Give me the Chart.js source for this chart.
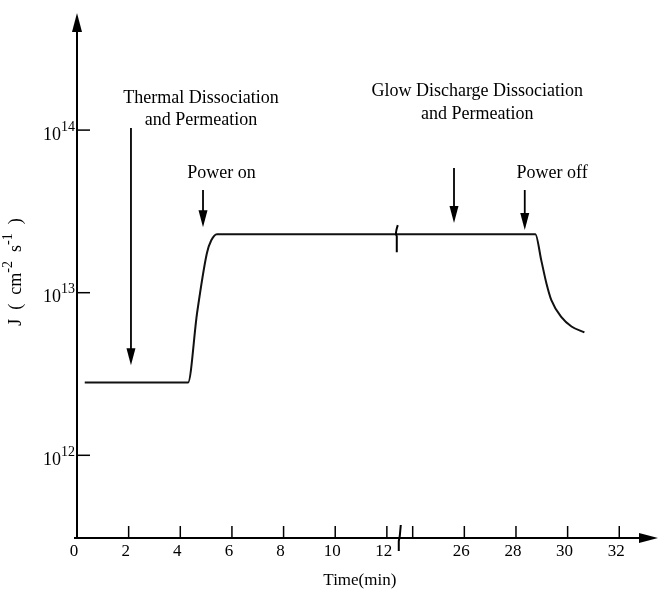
<!DOCTYPE html>
<html>
<head>
<meta charset="utf-8">
<script src="https://cdn.jsdelivr.net/npm/chart.js@4.4.1/dist/chart.umd.min.js"></script>
<style>
  body { margin: 0; background: #fff; }
  #wrap { width: 662px; height: 590px; }
</style>
</head>
<body>
<div id="wrap"><canvas id="fluxChart" width="662" height="590"></canvas></div>
<script>
// flux vs real time (min); the time axis is broken between 12.5 and 23.5
const timeMin = [0.3, 4.3, 4.65, 5.03, 5.2, 5.42, 12.4, 23.6, 28.75, 28.98, 29.18, 29.37, 29.76, 30.15, 30.65];
const flux = [2.8e12, 2.8e12, 7.5e12, 1.75e13, 2.1e13, 2.29e13, 2.29e13, 2.29e13, 2.29e13, 1.58e13, 1.14e13, 9.0e12, 7.07e12, 6.2e12, 5.7e12];

const xTicks = [0, 2, 4, 6, 8, 10, 12, 24, 26, 28, 30, 32];
const xTickLabels = ['0', '2', '4', '6', '8', '10', '12', '', '26', '28', '30', '32'];
const yTicks = [1e12, 1e13, 1e14];
const yTickExp = ['12', '13', '14'];

// annotations: text centre time, text line fluxes, arrow time, arrow start/end flux
const notes = [
    { lines: ['Thermal Dissociation', 'and Permeation'], textT: 4.8, textY: [1.57e14, 1.15e14], arrowT: 2.09, from: 1.03e14, to: 3.58e12 },
    { lines: ['Power on'], textT: 5.6, textY: [5.43e13], arrowT: 4.88, from: 4.28e13, to: 2.53e13 },
    { lines: ['Glow Discharge Dissociation', 'and Permeation'], textT: 26.5, textY: [1.74e14, 1.25e14], arrowT: 25.6, from: 5.84e13, to: 2.68e13 },
    { lines: ['Power off'], textT: 29.4, textY: [5.43e13], arrowT: 28.34, from: 4.28e13, to: 2.43e13 }
];

const gapStart = 12.5, gapEnd = 23.5;
const toAxis = t => t <= gapStart ? t : t - (gapEnd - gapStart);

const serif = '"Liberation Serif", "Times New Roman", serif';

function supText(ctx, base, sup, x, y, size, supSize) {
    // draws base + superscript, x is left edge
    ctx.textAlign = 'left';
    ctx.textBaseline = 'middle';
    ctx.font = size + 'px ' + serif;
    ctx.fillText(base, x, y);
    let w = ctx.measureText(base).width;
    ctx.font = supSize + 'px ' + serif;
    ctx.fillText(sup, x + w, y - size * 0.45);
    return w + ctx.measureText(sup).width;
}

const brokenAxes = {
    id: 'brokenAxes',
    afterDraw(chart) {
        const { ctx, chartArea: a, scales: { x, y } } = chart;
        ctx.save();
        ctx.strokeStyle = '#000';
        ctx.fillStyle = '#000';

        // axis lines
        ctx.lineWidth = 2;
        ctx.beginPath();
        ctx.moveTo(a.left, a.bottom);
        ctx.lineTo(a.left, a.top + 14);
        ctx.moveTo(a.left - 3, a.bottom);
        ctx.lineTo(a.right - 14, a.bottom);
        ctx.stroke();

        // arrow heads
        ctx.beginPath();
        ctx.moveTo(a.left, a.top);
        ctx.lineTo(a.left - 5, a.top + 19);
        ctx.lineTo(a.left + 5, a.top + 19);
        ctx.closePath();
        ctx.fill();
        ctx.beginPath();
        ctx.moveTo(a.right, a.bottom);
        ctx.lineTo(a.right - 19, a.bottom - 5);
        ctx.lineTo(a.right - 19, a.bottom + 5);
        ctx.closePath();
        ctx.fill();

        // x ticks (inside) and labels
        ctx.lineWidth = 1.5;
        ctx.font = '17px ' + serif;
        ctx.textAlign = 'center';
        ctx.textBaseline = 'middle';
        xTicks.forEach((t, i) => {
            const px = x.getPixelForValue(toAxis(t));
            if (t > 0) {
                ctx.beginPath();
                ctx.moveTo(px, a.bottom);
                ctx.lineTo(px, a.bottom - 12);
                ctx.stroke();
            }
            ctx.fillText(xTickLabels[i], px - 3, a.bottom + 14);
        });

        // break mark on the time axis
        const bx = x.getPixelForValue(gapStart);
        ctx.lineWidth = 2;
        ctx.beginPath();
        ctx.moveTo(bx + 1, a.bottom - 13);
        ctx.lineTo(bx, a.bottom - 2);
        ctx.lineTo(bx - 1, a.bottom + 3);
        ctx.lineTo(bx - 1, a.bottom + 13);
        ctx.stroke();

        // break mark on the curve
        const cy = y.getPixelForValue(flux[6]);
        ctx.beginPath();
        ctx.moveTo(bx - 2, cy - 9);
        ctx.quadraticCurveTo(bx - 5, cy, bx - 3, cy + 2);
        ctx.lineTo(bx - 3, cy + 18);
        ctx.stroke();

        // y ticks and labels
        ctx.lineWidth = 1.5;
        yTicks.forEach((v, i) => {
            const py = y.getPixelForValue(v);
            ctx.beginPath();
            ctx.moveTo(a.left, py);
            ctx.lineTo(a.left + 13, py);
            ctx.stroke();
            supText(ctx, '10', yTickExp[i], 43, py + 5, 18, 14);
        });

        // axis titles
        ctx.font = '17px ' + serif;
        ctx.textAlign = 'center';
        ctx.textBaseline = 'middle';
        ctx.fillText('Time(min)', x.getPixelForValue(toAxis(12)) - 27, a.bottom + 43);

        ctx.save();
        ctx.translate(16, 272);
        ctx.rotate(-Math.PI / 2);
        const parts = [['J  (  cm', '-2'], ['  s', '-1'], ['  )', '']];
        let total = 0;
        parts.forEach(p => {
            ctx.font = '18px ' + serif;
            total += ctx.measureText(p[0]).width;
            ctx.font = '14px ' + serif;
            total += ctx.measureText(p[1]).width;
        });
        let cx = -total / 2;
        parts.forEach(p => { cx += supText(ctx, p[0], p[1], cx, 0, 18, 14); });
        ctx.restore();

        // annotations
        notes.forEach(n => {
            ctx.font = '18px ' + serif;
            ctx.textAlign = 'center';
            ctx.textBaseline = 'middle';
            const tx = x.getPixelForValue(toAxis(n.textT));
            n.lines.forEach((line, i) => ctx.fillText(line, tx, y.getPixelForValue(n.textY[i])));

            const ax = x.getPixelForValue(toAxis(n.arrowT));
            const y0 = y.getPixelForValue(n.from);
            const y1 = y.getPixelForValue(n.to);
            ctx.lineWidth = 1.8;
            ctx.beginPath();
            ctx.moveTo(ax, y0);
            ctx.lineTo(ax, y1 - 10);
            ctx.stroke();
            ctx.beginPath();
            ctx.moveTo(ax, y1);
            ctx.lineTo(ax - 4.5, y1 - 17);
            ctx.lineTo(ax + 4.5, y1 - 17);
            ctx.closePath();
            ctx.fill();
        });

        ctx.restore();
    }
};

const ctx = document.getElementById('fluxChart').getContext('2d');
new Chart(ctx, {
    type: 'line',
    data: {
        datasets: [{
            data: timeMin.map((t, i) => ({ x: toAxis(t), y: flux[i] })),
            borderColor: '#111',
            borderWidth: 2,
            pointRadius: 0,
            cubicInterpolationMode: 'monotone',
            fill: false
        }]
    },
    options: {
        responsive: false,
        animation: false,
        layout: { padding: { left: 77, top: 13, right: 4, bottom: 52 } },
        plugins: { legend: { display: false }, tooltip: { enabled: false } },
        scales: {
            x: { type: 'linear', display: false, min: 0, max: 22.5 },
            y: { type: 'logarithmic', display: false, min: 3.1e11, max: 5.25e14 }
        }
    },
    plugins: [brokenAxes]
});
</script>
</body>
</html>
